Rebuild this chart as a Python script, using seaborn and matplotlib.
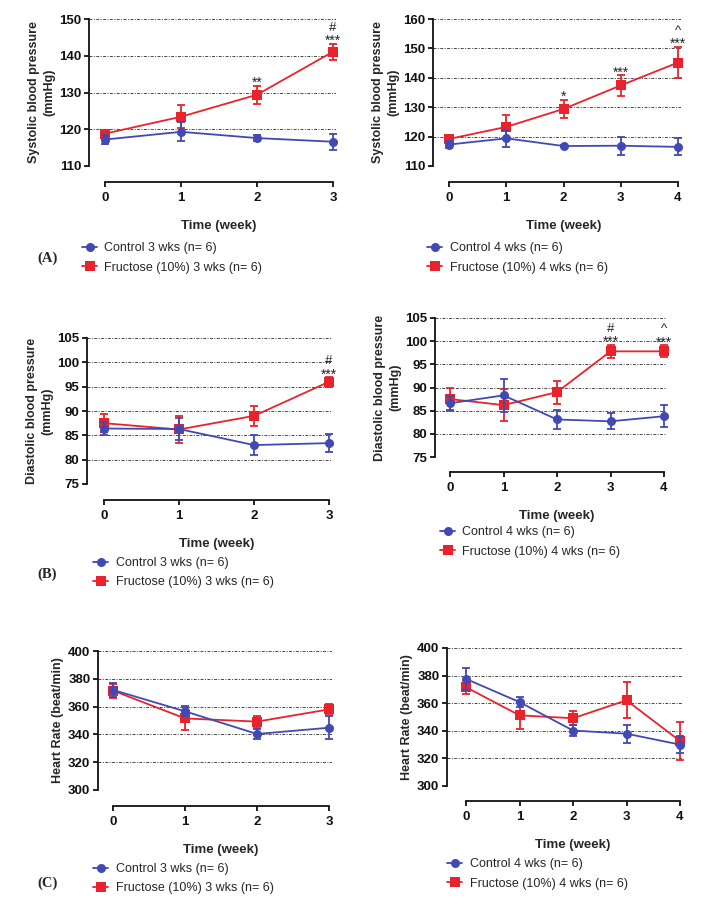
import numpy as np
import pandas as pd
import matplotlib.pyplot as plt
import seaborn as sns
from matplotlib.lines import Line2D

# data (mean and SEM per week)
weeks3 = [0, 1, 2, 3]
weeks4 = [0, 1, 2, 3, 4]

sbp3_ctrl = [117.2, 119.3, 117.6, 116.6]
sbp3_ctrl_err = [1.2, 2.6, 0.8, 2.2]
sbp3_fruc = [118.8, 123.4, 129.4, 141.1]
sbp3_fruc_err = [0.8, 3.1, 2.4, 2.2]

sbp4_ctrl = [117.3, 119.4, 116.8, 116.9, 116.5]
sbp4_ctrl_err = [1.3, 3.0, 0.5, 3.0, 2.9]
sbp4_fruc = [119.2, 123.3, 129.4, 137.4, 145.2]
sbp4_fruc_err = [1.0, 4.0, 3.1, 3.5, 5.4]

dbp3_ctrl = [86.4, 86.3, 83.0, 83.4]
dbp3_ctrl_err = [1.4, 2.2, 2.0, 1.8]
dbp3_fruc = [87.5, 86.2, 89.0, 96.0]
dbp3_fruc_err = [1.9, 2.7, 2.0, 1.0]

dbp4_ctrl = [86.6, 88.3, 83.1, 82.7, 83.8]
dbp4_ctrl_err = [1.5, 3.6, 2.1, 1.7, 2.4]
dbp4_fruc = [87.5, 86.2, 89.0, 97.8, 97.8]
dbp4_fruc_err = [2.5, 3.5, 2.5, 1.4, 1.3]

hr3_ctrl = [372.0, 356.6, 340.3, 344.8]
hr3_ctrl_err = [5.0, 3.6, 3.8, 8.2]
hr3_fruc = [371.5, 351.5, 349.2, 358.0]
hr3_fruc_err = [5.0, 8.2, 4.3, 3.6]

hr4_ctrl = [377.6, 360.8, 340.2, 337.9, 330.0]
hr4_ctrl_err = [7.7, 3.7, 4.0, 6.5, 6.0]
hr4_fruc = [371.6, 351.2, 349.1, 362.1, 332.6]
hr4_fruc_err = [5.2, 10.2, 5.1, 13.1, 13.7]

stars_sbp3 = ["", "", "**", "***"]
marks_sbp3 = ["", "", "", "#"]
stars_sbp4 = ["", "", "*", "***", "***"]
marks_sbp4 = ["", "", "", "", "^"]
stars_dbp3 = ["", "", "", "***"]
marks_dbp3 = ["", "", "", "#"]
stars_dbp4 = ["", "", "", "***", "***"]
marks_dbp4 = ["", "", "", "#", "^"]

sbp3_ticks = [110, 120, 130, 140, 150]
sbp4_ticks = [110, 120, 130, 140, 150, 160]
dbp_ticks = [75, 80, 85, 90, 95, 100, 105]
hr_ticks = [300, 320, 340, 360, 380, 400]

BLUE = "#4149b3"
RED = "#e8232b"

sns.set_style("ticks")
plt.rcParams["font.family"] = ["Liberation Sans", "DejaVu Sans"]

W, H = 705, 909
fig = plt.figure(figsize=(W / 100, H / 100), dpi=100)


def panel(box, legpos, weeks, ctrl, ctrl_err, fruc, fruc_err, yticks, ylabel,
          stars=None, marks=None):
    yax, x0, xn, ytop, ybot, xaxis = box
    n = weeks[-1]
    right = xn + 3
    ax = fig.add_axes([yax / W, 1 - xaxis / H, (right - yax) / W, (xaxis - ytop) / H])
    upx = n / (xn - x0)
    ax.set_xlim(-(x0 - yax) * upx, n + (right - xn) * upx)
    vpx = (yticks[-1] - yticks[0]) / (ybot - ytop)
    ax.set_ylim(yticks[0] - (xaxis - ybot) * vpx, yticks[-1])

    c_lab = f"Control {n} wks (n= 6)"
    f_lab = f"Fructose (10%) {n} wks (n= 6)"
    df = pd.DataFrame({
        "week": list(weeks) * 2,
        "value": list(ctrl) + list(fruc),
        "group": [c_lab] * len(weeks) + [f_lab] * len(weeks),
    })

    for y in yticks[1:]:
        ax.axhline(y, color="#444444", lw=0.7, ls=(0, (3, 1.5, 1, 1.5)), zorder=0)

    ax.errorbar(weeks, fruc, yerr=fruc_err, fmt="none", ecolor=RED, elinewidth=1.3,
                capsize=3, capthick=1.3, zorder=2.5, clip_on=False)
    ax.errorbar(weeks, ctrl, yerr=ctrl_err, fmt="none", ecolor=BLUE, elinewidth=1.3,
                capsize=3, capthick=1.3, zorder=3.5, clip_on=False)
    sns.lineplot(data=df, x="week", y="value", hue="group", style="group",
                 hue_order=[c_lab, f_lab], style_order=[c_lab, f_lab],
                 palette=[BLUE, RED], markers=["o", "s"], dashes=False,
                 markersize=6.5, linewidth=1.3, markeredgewidth=0,
                 errorbar=None, legend=False, ax=ax, clip_on=False)
    ax.lines[-2].set_zorder(4)
    ax.lines[-1].set_zorder(3)

    if stars is not None:
        for w, v, e, s, m in zip(weeks, fruc, fruc_err, stars, marks):
            if s:
                ax.annotate(s, (w, v + e), xytext=(0, -1), textcoords="offset points",
                            ha="center", va="baseline", fontsize=10, color="#222222",
                            annotation_clip=False)
            if m:
                ax.annotate(m, (w, v + e), xytext=(0, 11.5), textcoords="offset points",
                            ha="center", va="center", fontsize=9.5, color="#222222",
                            annotation_clip=False)

    sns.despine(ax=ax)
    ax.spines["left"].set_bounds(yticks[0], yticks[-1])
    ax.spines["bottom"].set_bounds(0, n)
    for sp in ["left", "bottom"]:
        ax.spines[sp].set_linewidth(1.3)
        ax.spines[sp].set_color("#111111")
    ax.set_xticks(weeks)
    ax.set_yticks(yticks)
    ax.tick_params(axis="both", width=1.3, length=3.5, labelsize=9.5, colors="#111111")
    ax.tick_params(axis="x", pad=4)
    ax.tick_params(axis="y", pad=2)
    for lbl in ax.get_xticklabels() + ax.get_yticklabels():
        lbl.set_fontweight("bold")

    ax.set_xlabel("Time (week)", fontsize=9.5, fontweight="bold", labelpad=11)
    ax.xaxis.label.set_x(((x0 + xn) / 2 - yax) / (right - yax))
    ax.set_ylabel(ylabel, fontsize=9, fontweight="bold", labelpad=3, linespacing=1.3)
    ax.yaxis.label.set_y((xaxis - (ytop + ybot) / 2) / (xaxis - ytop))

    handles = [
        Line2D([], [], color=BLUE, marker="o", markersize=6.5, lw=1.3, markeredgewidth=0),
        Line2D([], [], color=RED, marker="s", markersize=6.5, lw=1.3, markeredgewidth=0),
    ]
    hx, hy = legpos
    ax.legend(handles, [c_lab, f_lab], loc="upper left",
              bbox_to_anchor=(hx / W, 1 - (hy - 8) / H), bbox_transform=fig.transFigure,
              frameon=False, borderpad=0, borderaxespad=0, fontsize=9,
              handlelength=1.2, handletextpad=0.6, labelspacing=0.6)
    return ax


sbp_label = "Systolic blood pressure\n(mmHg)"
dbp_label = "Diastolic blood pressure\n(mmHg)"
hr_label = "Heart Rate (beat/min)"

panel((89, 105, 333, 19, 166, 182), (82, 250), weeks3,
      sbp3_ctrl, sbp3_ctrl_err, sbp3_fruc, sbp3_fruc_err, sbp3_ticks, sbp_label,
      stars_sbp3, marks_sbp3)
panel((433, 449, 678, 19, 166, 182), (427, 250), weeks4,
      sbp4_ctrl, sbp4_ctrl_err, sbp4_fruc, sbp4_fruc_err, sbp4_ticks, sbp_label,
      stars_sbp4, marks_sbp4)
panel((87, 104, 329, 338, 484, 500), (93, 565), weeks3,
      dbp3_ctrl, dbp3_ctrl_err, dbp3_fruc, dbp3_fruc_err, dbp_ticks, dbp_label,
      stars_dbp3, marks_dbp3)
panel((435, 450, 664, 318, 457, 472), (440, 534), weeks4,
      dbp4_ctrl, dbp4_ctrl_err, dbp4_fruc, dbp4_fruc_err, dbp_ticks, dbp_label,
      stars_dbp4, marks_dbp4)
panel((98, 113, 329, 651, 790, 806), (93, 871), weeks3,
      hr3_ctrl, hr3_ctrl_err, hr3_fruc, hr3_fruc_err, hr_ticks, hr_label)
panel((447, 466, 680, 648, 786, 801), (447, 866), weeks4,
      hr4_ctrl, hr4_ctrl_err, hr4_fruc, hr4_fruc_err, hr_ticks, hr_label)

for txt, y in [("(A)", 258), ("(B)", 574), ("(C)", 883)]:
    fig.text(37 / W, 1 - y / H, txt, family="Liberation Serif", fontweight="bold",
             fontsize=10.5, ha="left", va="center")

fig.savefig("out.png", dpi=100)
